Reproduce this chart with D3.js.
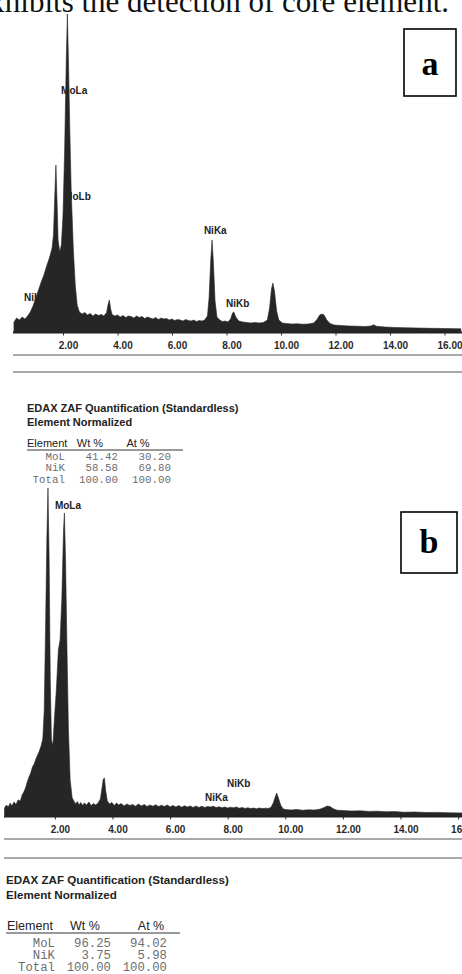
<!DOCTYPE html>
<html>
<head>
<meta charset="utf-8">
<script src="https://cdn.jsdelivr.net/npm/d3@7"></script>
<style>
body { margin: 0; background: #fff; overflow: hidden; }
svg { display: block; }
</style>
</head>
<body>
<svg id="fig" width="462" height="974"></svg>
<script>
// spectrum a (keV / counts)
const energyA = [0.2,0.3,0.4,0.5,0.6,0.7,0.8,0.9,1.0,1.1,1.2,1.3,1.4,1.5,1.6,1.65,1.7,1.74,1.78,1.82,1.88,1.94,2.0,2.06,2.12,2.16,2.2,2.25,2.3,2.38,2.45,2.52,
  2.6,2.7,2.8,2.9,3.0,3.1,3.2,3.3,3.4,3.5,3.6,3.65,3.7,3.75,3.8,3.9,4.0,4.1,4.2,4.3,4.4,4.5,4.6,4.7,4.8,4.9,5.0,5.1,5.2,5.3,5.4,5.5,5.6,5.7,5.8,5.9,
  6.0,6.1,6.2,6.3,6.4,6.5,6.6,6.7,6.8,6.9,7.0,7.1,7.2,7.3,7.36,7.42,7.47,7.52,7.58,7.65,7.75,7.85,7.95,8.05,8.15,8.22,8.27,8.34,8.45,8.6,8.75,8.9,
  9.05,9.2,9.35,9.5,9.58,9.65,9.7,9.76,9.84,9.92,10.05,10.2,10.4,10.6,10.8,11.0,11.2,11.32,11.42,11.5,11.58,11.68,11.8,11.95,12.2,12.5,12.8,13.1,
  13.3,13.4,13.5,13.8,14.2,14.6,15.0,15.5,16.0,16.6];
const countsA = [90,130,110,140,120,150,190,250,330,410,490,560,650,730,830,960,1360,1660,1310,910,790,860,1160,1810,2710,3170,2710,2010,1410,810,460,260,
  190,170,185,160,175,150,170,155,165,150,185,260,310,220,165,150,160,140,155,135,150,145,130,150,135,145,125,140,130,120,135,115,130,120,125,110,
  120,105,115,110,100,115,105,100,110,95,105,100,110,150,330,700,910,680,300,140,110,95,100,90,120,180,190,140,100,90,85,80,
  85,80,85,110,230,420,480,400,200,110,80,75,70,72,68,70,80,115,160,170,160,110,75,60,55,50,48,45,
  50,62,48,40,35,32,30,27,25,22];

// spectrum b
const energyB = [0.25,0.32,0.38,0.45,0.5,0.58,0.65,0.72,0.8,0.86,0.92,0.98,1.04,1.1,1.16,1.22,1.28,1.34,1.4,1.46,1.52,1.58,1.63,1.68,1.72,1.76,1.8,1.84,
  1.88,1.93,1.98,2.05,2.12,2.18,2.24,2.3,2.33,2.37,2.42,2.47,2.53,2.6,2.66,2.72,2.78,2.84,2.9,2.96,3.02,3.1,3.18,3.26,3.34,3.42,3.5,3.58,3.63,3.68,
  3.72,3.76,3.82,3.9,3.98,4.06,4.14,4.22,4.3,4.4,4.5,4.6,4.7,4.8,4.9,5.0,5.1,5.2,5.3,5.4,5.5,5.6,5.7,5.8,5.9,6.0,6.1,6.2,6.3,6.4,6.5,6.6,6.7,6.8,
  6.9,7.0,7.1,7.2,7.3,7.4,7.5,7.6,7.7,7.8,7.9,8.0,8.1,8.2,8.3,8.4,8.5,8.6,8.7,8.8,8.9,9.0,9.1,9.2,9.3,9.4,9.5,9.58,9.65,9.7,9.76,9.84,9.92,10.0,
  10.2,10.4,10.6,10.8,11.0,11.2,11.35,11.45,11.55,11.65,11.8,12.0,12.3,12.6,12.9,13.2,13.5,13.8,14.1,14.5,14.9,15.3,15.7,16.2];
const countsB = [70,100,80,120,90,130,105,150,140,200,230,270,330,380,420,480,510,560,600,640,690,760,1050,1950,2750,3270,2550,1350,
  750,700,950,1250,1650,1750,2150,2850,3020,2550,1650,850,350,170,140,110,135,100,125,95,120,100,130,95,115,100,120,160,260,360,
  370,250,140,110,125,95,120,100,115,90,110,95,105,88,110,90,105,85,100,88,102,84,98,85,100,82,95,80,95,78,92,80,90,76,
  90,75,88,76,85,80,88,74,82,72,80,70,78,72,80,68,75,66,72,64,70,62,70,64,68,66,75,120,180,220,170,100,62,55,
  50,56,48,52,50,58,75,90,85,65,48,45,40,42,36,38,32,34,28,30,25,26,22,20];

const tickValues = [2, 4, 6, 8, 10, 12, 14, 16];

// peak labels (anchor in keV / counts)
const labelsA = [
  {name: "MoLa", e: 1.93, c: 2410},
  {name: "MoLb", e: 2.04, c: 1350},
  {name: "NiL", e: 0.57, c: 340},
  {name: "NiKa", e: 7.17, c: 1010},
  {name: "NiKb", e: 7.98, c: 280}
];
const labelsB = [
  {name: "MoLa", e: 2.0, c: 3100},
  {name: "NiKb", e: 7.98, c: 320},
  {name: "NiKa", e: 7.21, c: 180}
];

// quantification tables
const tableTitle = "EDAX ZAF Quantification (Standardless)";
const tableSub = "Element Normalized";
const tableHead = ["Element", "Wt %", "At %"];
const rowsA = [["MoL", "41.42", "30.20"], ["NiK", "58.58", "69.80"], ["Total", "100.00", "100.00"]];
const rowsB = [["MoL", "96.25", "94.02"], ["NiK", "3.75", "5.98"], ["Total", "100.00", "100.00"]];

const svg = d3.select("#fig");
const sans = "'Liberation Sans', Arial, sans-serif";
const mono = "'Liberation Mono', 'Courier New', monospace";
const serif = "'Liberation Serif', 'Times New Roman', serif";

// sentence of the page above, cut at the top like in the scan
svg.append("text")
  .attr("x", 449).attr("y", 12)
  .attr("text-anchor", "end")
  .style("font-family", serif).style("font-size", "31px")
  .style("fill", "#111")
  .text("exhibits the detection of core element.");

// ---------------------------------------------------------------------
function drawPanel(p) {
  const x = d3.scaleLinear().domain([0, 16]).range(p.xRange);
  const y = d3.scaleLinear().domain([0, p.yMax]).range(p.yRange);
  const g = svg.append("g");

  // labels first, the peaks cover them a bit like in the scan
  g.selectAll("text.lab")
    .data(p.labels)
    .enter().append("text")
      .attr("class", "lab")
      .attr("x", d => x(d.e))
      .attr("y", d => y(d.c) + 3.5)
      .style("font-family", sans).style("font-size", "10px").style("font-weight", "bold")
      .style("fill", "#222")
      .text(d => d.name);

  const pts = p.energy.map((e, i) => [e, p.counts[i]]);
  const area = d3.area()
    .x(d => x(d[0]))
    .y0(y(0) + 1)
    .y1(d => y(d[1]));

  g.append("path")
    .datum(pts)
    .attr("d", area)
    .attr("fill", "#262626")
    .attr("stroke", "#262626")
    .attr("stroke-width", 0.6);

  // axis
  const ax = g.append("g")
    .attr("transform", `translate(0, ${y(0) + 1.5})`)
    .call(d3.axisBottom(x).tickValues(tickValues).tickSize(3).tickPadding(6).tickFormat(d3.format(".2f")));
  ax.select(".domain").remove();
  ax.selectAll("line").attr("stroke", "#333");
  ax.selectAll("text")
    .attr("dx", 5)
    .style("font-family", sans).style("font-size", "10px").style("font-weight", "bold")
    .style("fill", "#2a2a2a");

  g.append("line")
    .attr("x1", p.x0).attr("x2", 462)
    .attr("y1", y(0) + 1.5).attr("y2", y(0) + 1.5)
    .attr("stroke", "#222").attr("stroke-width", 2);
  p.rules.forEach(r => {
    g.append("line")
      .attr("x1", p.x0).attr("x2", 462)
      .attr("y1", r).attr("y2", r)
      .attr("stroke", "#555").attr("stroke-width", 1.2);
  });

  // letter box
  g.append("rect")
    .attr("x", p.box[0]).attr("y", p.box[1])
    .attr("width", p.box[2]).attr("height", p.box[3])
    .attr("fill", "#fff").attr("stroke", "#000").attr("stroke-width", 1.6);
  g.append("text")
    .attr("x", p.box[0] + p.box[2] / 2)
    .attr("y", p.box[1] + p.box[3] * 0.68)
    .attr("text-anchor", "middle")
    .style("font-family", serif).style("font-size", "34px").style("font-weight", "bold")
    .text(p.letter);
}

function drawTable(t) {
  const g = svg.append("g");
  g.append("text")
    .attr("x", t.x).attr("y", t.yTitle)
    .style("font-family", sans).style("font-size", t.fs + "px").style("font-weight", "bold")
    .style("fill", "#222")
    .text(tableTitle);
  g.append("text")
    .attr("x", t.x).attr("y", t.yTitle + t.fs * 1.3)
    .style("font-family", sans).style("font-size", t.fs + "px").style("font-weight", "bold")
    .style("fill", "#222")
    .text(tableSub);

  g.selectAll("text.head")
    .data(tableHead)
    .enter().append("text")
      .attr("class", "head")
      .attr("x", (d, i) => t.head[i])
      .attr("y", t.yHead)
      .attr("text-anchor", (d, i) => i == 0 ? "start" : "middle")
      .style("font-family", sans).style("font-size", t.hs + "px")
      .style("fill", "#222")
      .text(d => d);
  g.append("line")
    .attr("x1", t.x).attr("x2", t.lineEnd)
    .attr("y1", t.yHead + 3).attr("y2", t.yHead + 3)
    .attr("stroke", "#333").attr("stroke-width", 1);

  t.rows.forEach((row, r) => {
    row.forEach((cell, c) => {
      g.append("text")
        .attr("x", t.cols[c])
        .attr("y", t.yRow + r * t.rowH)
        .attr("text-anchor", "end")
        .style("font-family", mono).style("font-size", t.mono + "px")
        .style("fill", "#6e6e6e")
        .text(cell);
    });
  });
}

drawPanel({
  energy: energyA, counts: countsA, labels: labelsA,
  xRange: [8.5, 8.5 + 16 * 27.25], yRange: [331, 14], yMax: 3170,
  x0: 13, rules: [355, 372],
  box: [404, 29, 52, 67], letter: "a"
});

drawPanel({
  energy: energyB, counts: countsB, labels: labelsB,
  xRange: [-2.7, -2.7 + 16 * 28.8], yRange: [815, 488], yMax: 3270,
  x0: 4, rules: [839, 858],
  box: [401, 512, 56, 61], letter: "b"
});

drawTable({
  x: 27, fs: 11, hs: 11, yTitle: 412, yHead: 447, head: [27, 90, 138], lineEnd: 183,
  rows: rowsA, cols: [65, 118, 171], yRow: 460, rowH: 11.3, mono: 10.8
});

drawTable({
  x: 6, fs: 11.6, hs: 12.5, yTitle: 884, yHead: 930, head: [7, 85, 151], lineEnd: 180,
  rows: rowsB, cols: [55, 111, 167], yRow: 947, rowH: 12.2, mono: 12.3
});
</script>
</body>
</html>
